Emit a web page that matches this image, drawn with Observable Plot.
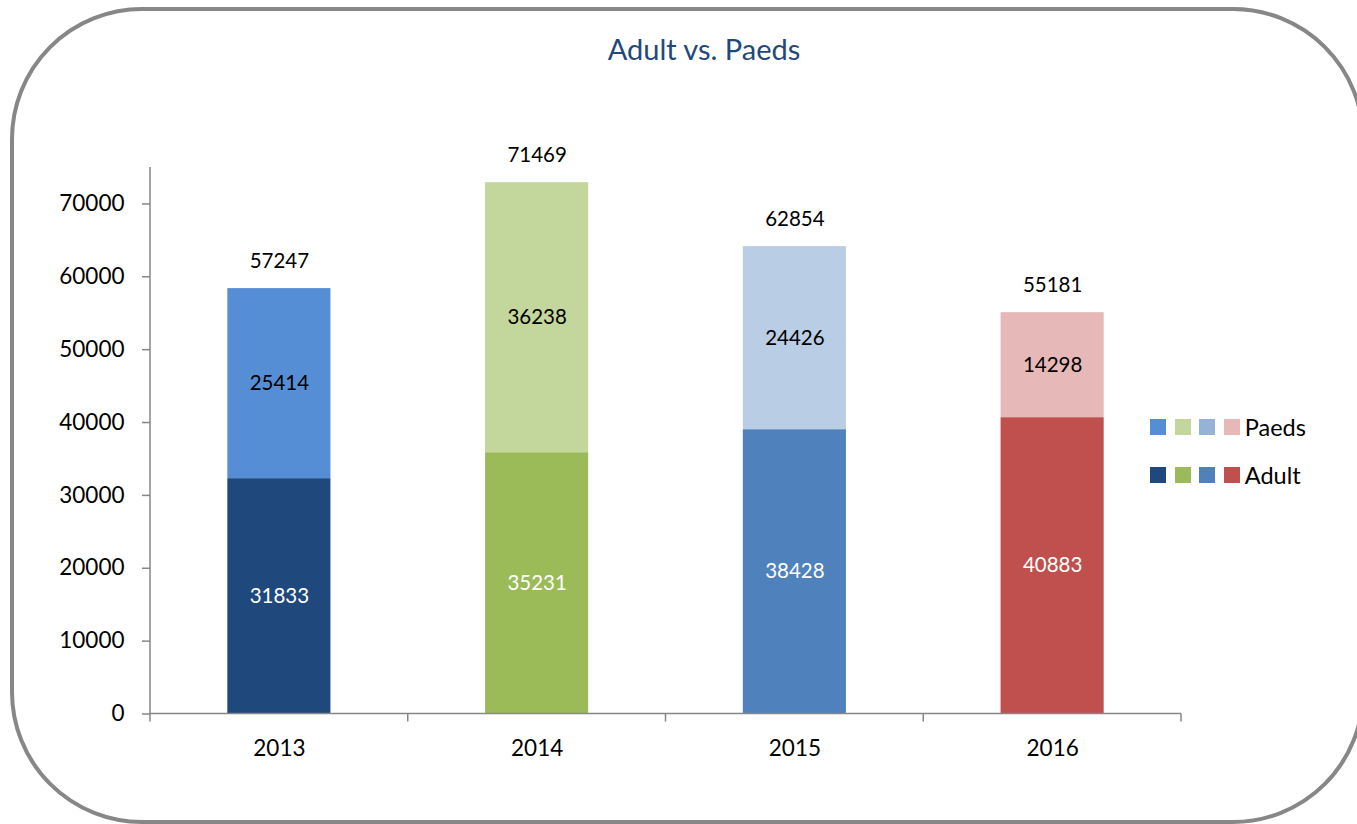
<!DOCTYPE html>
<html>
<head>
<meta charset="utf-8">
<script src="https://cdn.jsdelivr.net/npm/d3@7"></script>
<script src="https://cdn.jsdelivr.net/npm/@observablehq/plot@0.6"></script>
<style>
  html, body { margin: 0; padding: 0; background: #fff; }
  #wrap { position: relative; width: 1357px; height: 824px; overflow: hidden; font-family: Lato, "Open Sans", sans-serif; }
  #frame { position: absolute; left: 10px; top: 7px; width: 1355px; height: 817px; box-sizing: border-box;
           border: 4.5px solid #878787; border-radius: 132px; }
  #title { position: absolute; left: 704px; top: 34px; transform: translateX(-50%); white-space: nowrap;
           font-size: 29px; line-height: 29px; color: #1F497D; }
  #chart { position: absolute; left: 0; top: 0; }
  .lrow { position: absolute; left: 1150px; display: flex; align-items: center; height: 24px; }
  .sq { width: 16px; height: 16px; margin-right: 8.7px; }
  .lrow span { font-size: 23.5px; line-height: 24px; color: #000; margin-left: -4px; }
</style>
</head>
<body>
<div id="wrap">
  <div id="frame"></div>
  <div id="title">Adult vs. Paeds</div>
  <div id="chart"></div>
</div>
<script>
// ---- data ----
const years = ["2013", "2014", "2015", "2016"];
// bar heights as drawn in the picture
const adultValues = [32300, 35860, 39020, 40670];
const paedsValues = [26080, 37060, 25120, 14410];
// printed data labels
const adultLabels = ["31833", "35231", "38428", "40883"];
const paedsLabels = ["25414", "36238", "24426", "14298"];
const totalLabels = ["57247", "71469", "62854", "55181"];
const yTicks = [0, 10000, 20000, 30000, 40000, 50000, 60000, 70000];
const yMax = 75000;

// ---- styles ----
const adultColors = ["#1F497D", "#9BBB59", "#4F81BD", "#C0504D"];
const paedsColors = ["#558ED5", "#C3D69B", "#B9CDE5", "#E6B9B8"];
const paedsLegendColors = ["#558ED5", "#C3D69B", "#95B3D7", "#E6B9B8"];
const axisColor = "#868686";

const rows = [];
years.forEach((y, i) => {
  rows.push({year: y, y1: 0, y2: adultValues[i], label: adultLabels[i], color: adultColors[i], text: "#ffffff"});
  rows.push({year: y, y1: adultValues[i], y2: adultValues[i] + paedsValues[i], label: paedsLabels[i], color: paedsColors[i], text: "#000000"});
});
const totals = years.map((y, i) => ({year: y, total: adultValues[i] + paedsValues[i], label: totalLabels[i]}));

function axisLines(index, scales, values, dims) {
  const {width, height, marginLeft, marginRight, marginTop, marginBottom} = dims;
  const y0 = height - marginBottom;
  const n = years.length;
  const step = (width - marginLeft - marginRight) / n;
  const g = d3.create("svg:g").attr("stroke", axisColor).attr("stroke-width", 1.5).attr("fill", "none");
  g.append("line").attr("x1", marginLeft).attr("x2", marginLeft).attr("y1", marginTop).attr("y2", y0 + 0.5);
  g.append("line").attr("x1", marginLeft).attr("x2", width - marginRight).attr("y1", y0).attr("y2", y0);
  d3.range(n + 1).forEach(i => {
    const x = marginLeft + i * step;
    g.append("line").attr("x1", x).attr("x2", x).attr("y1", y0).attr("y2", y0 + 8);
  });
  return g.node();
}

const plot = Plot.plot({
  width: 1357,
  height: 824,
  marginTop: 167,
  marginBottom: 110.5,
  marginLeft: 150,
  marginRight: 176,
  style: {background: "transparent", fontFamily: "Lato, 'Open Sans', sans-serif", overflow: "visible"},
  x: {domain: years, paddingInner: 0.6, paddingOuter: 0.3, round: false, axis: null, label: null},
  y: {domain: [0, yMax], axis: null, label: null},
  color: {type: "identity"},
  marks: [
    Plot.rectY(rows, {x: "year", y1: "y1", y2: "y2", fill: "color"}),
    Plot.text(rows, {x: "year", y: d => (d.y1 + d.y2) / 2, text: "label", fill: "text", fontSize: 20.5}),
    Plot.text(totals, {x: "year", y: "total", text: "label", dy: -27, fill: "#000", fontSize: 20.5}),
    axisLines,
    Plot.axisY({ticks: yTicks, tickSize: 8, tickPadding: 18, tickFormat: d => String(d), stroke: axisColor, strokeWidth: 1.5, fill: "#000", fontSize: 22.5, label: null}),
    Plot.axisX({tickSize: 0, tickPadding: 26, fill: "#000", fontSize: 22.5, label: null})
  ]
});
document.getElementById("chart").appendChild(plot);

// legend
const wrap = document.getElementById("wrap");
[{label: "Paeds", colors: paedsLegendColors, top: 415}, {label: "Adult", colors: adultColors, top: 463}].forEach(r => {
  const row = document.createElement("div");
  row.className = "lrow";
  row.style.top = r.top + "px";
  r.colors.forEach(c => {
    const s = document.createElement("div");
    s.className = "sq";
    s.style.background = c;
    row.appendChild(s);
  });
  const t = document.createElement("span");
  t.textContent = r.label;
  row.appendChild(t);
  wrap.appendChild(row);
});
</script>
</body>
</html>
